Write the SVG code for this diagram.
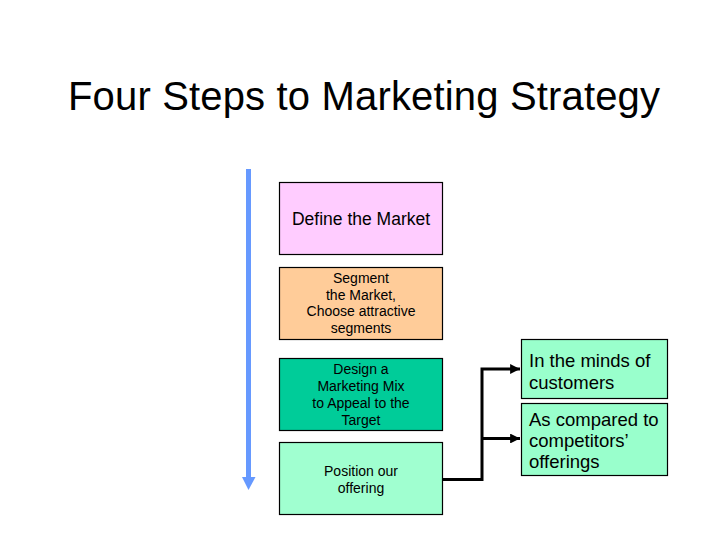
<svg xmlns="http://www.w3.org/2000/svg" width="728" height="546" viewBox="0 0 728 546">
<defs>
<style>
text{font-family:"Liberation Sans",Arial,sans-serif;fill:#000}
.box{stroke:#000;stroke-width:1.2}
.c{text-anchor:middle;font-size:14px}
.r{font-size:18.5px}
.conn{fill:none;stroke:#000;stroke-width:3}
</style>
<marker id="ah" viewBox="0 0 10 10" refX="10" refY="5" markerWidth="3.3" markerHeight="3.3" orient="auto" markerUnits="strokeWidth">
<path d="M0,0 L10,5 L0,10 z" fill="#000"/>
</marker>
</defs>
<rect width="728" height="546" fill="#fff"/>
<text x="68" y="110" font-size="40" textLength="592" lengthAdjust="spacing">Four Steps to Marketing Strategy</text>
<g id="timeline">
<rect x="246" y="169" width="5" height="309" fill="#6699ff"/>
<path d="M242,477 L255.5,477 L248.5,490 z" fill="#6699ff"/>
</g>
<g id="n1">
<rect class="box" x="279.5" y="182.5" width="163" height="72" fill="#ffccff"/>
<text class="c" x="361" y="224.5" style="font-size:17.5px">Define the Market</text>
</g>
<g id="n2">
<rect class="box" x="279.5" y="267.5" width="163" height="72" fill="#ffcc99"/>
<text class="c" x="361" y="283">Segment</text>
<text class="c" x="361" y="299.5">the Market,</text>
<text class="c" x="361" y="316">Choose attractive</text>
<text class="c" x="361" y="332.5">segments</text>
</g>
<g id="n3">
<rect class="box" x="279.5" y="358.5" width="163" height="72" fill="#00cc99"/>
<text class="c" x="361" y="374">Design a</text>
<text class="c" x="361" y="391">Marketing Mix</text>
<text class="c" x="361" y="408">to Appeal to the</text>
<text class="c" x="361" y="424.5">Target</text>
</g>
<g id="n4">
<rect class="box" x="279.5" y="442.5" width="163" height="72" fill="#a0ffd0"/>
<text class="c" x="361" y="476">Position our</text>
<text class="c" x="361" y="493">offering</text>
</g>
<g id="n5">
<rect class="box" x="521.5" y="339.5" width="146" height="59" fill="#99ffcc"/>
<text class="r" x="529" y="366.5">In the minds of</text>
<text class="r" x="529" y="388.5">customers</text>
</g>
<g id="n6">
<rect class="box" x="521.5" y="403.5" width="146" height="72" fill="#99ffcc"/>
<text class="r" x="529" y="425.5">As compared to</text>
<text class="r" x="529" y="446.5">competitors’</text>
<text class="r" x="529" y="467.5">offerings</text>
</g>
<g id="connectors">
<polyline class="conn" points="443,479.5 482,479.5 482,369 520,369" marker-end="url(#ah)"/>
<polyline class="conn" points="482,438.5 520,438.5" marker-end="url(#ah)"/>
</g>
</svg>
